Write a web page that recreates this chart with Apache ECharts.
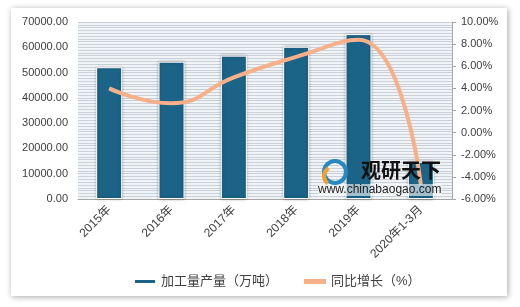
<!DOCTYPE html>
<html><head><meta charset="utf-8">
<script src="https://cdn.jsdelivr.net/npm/echarts@6/dist/echarts.min.js"></script>
<style>html,body{margin:0;padding:0;background:#fff}#c{width:520px;height:307px}</style>
</head><body><div id="c"></div>
<script>
var categories = ['2015年','2016年','2017年','2018年','2019年','2020年1-3月'];
var output = [52100, 54300, 56700, 60200, 65200, 14700];
var growth = [4.0, 2.65, 5.0, 6.85, 8.4, -4.7];
var leftTicks = {min: 0, max: 70000, interval: 10000};
var rightTicks = {min: -6, max: 10, interval: 2};

var chart = echarts.init(document.getElementById('c'));
var font = 'Liberation Sans, Noto Sans CJK SC, sans-serif';
chart.setOption({
  animation: false,
  textStyle: {fontFamily: font},
  graphic: [
    {type: 'rect', z: -10, shape: {x: 11, y: 8, width: 496, height: 288},
     style: {fill: '#fff', shadowColor: 'rgba(0,0,0,0.35)', shadowBlur: 6, shadowOffsetX: 1, shadowOffsetY: 1}},
    {type: 'rect', z: 1, shape: {x: 115, y: 270, width: 195, height: 20}, style: {fill: '#fff'}},
    {type: 'text', z: 100, left: 361, top: 160, style: {text: '观研天下', font: 'bold 20px "Noto Sans CJK SC"', fill: '#111'}},
    {type: 'text', z: 100, left: 318, top: 184, style: {text: 'www.chinabaogao.com', font: '12px "Liberation Sans"', fill: '#222', backgroundColor: 'rgba(255,255,255,0.6)'}},
    {type: 'circle', z: 100, shape: {cx: 335, cy: 172, r: 11}, style: {fill: 'none', stroke: '#2a88c0', lineWidth: 4}},
    {type: 'arc', z: 100, shape: {cx: 333, cy: 176, r: 9, startAngle: 2.2, endAngle: 4.2}, style: {stroke: '#f0a030', lineWidth: 4, fill: 'none'}}
  ],
  grid: {left: 78, right: 68, top: 22, bottom: 108, show: true, backgroundColor: '#F1F4F7', borderWidth: 0},
  legend: {
    bottom: 14, left: 128, itemGap: 26, itemWidth: 22, itemHeight: 5,
    textStyle: {fontSize: 13, color: '#404040'},
    data: [{name: '加工量产量（万吨）', icon: 'rect'}, {name: '同比增长（%）', icon: 'rect'}]
  },
  xAxis: {
    type: 'category', data: categories,
    axisLine: {lineStyle: {color: '#A6A6A6'}},
    axisTick: {show: false},
    axisLabel: {rotate: 45, fontSize: 12, color: '#404040', margin: 9, interval: 0}
  },
  yAxis: [
    {type: 'value', min: leftTicks.min, max: leftTicks.max, interval: leftTicks.interval,
     axisLabel: {fontSize: 11, color: '#404040', margin: 10, formatter: function(v){return v.toFixed(2);}},
     axisLine: {show: false}, axisTick: {show: false},
     splitLine: {lineStyle: {color: '#C9D0D7', width: 1}},
     minorTick: {show: false, splitNumber: 9},
     minorSplitLine: {show: true, lineStyle: {color: '#C9D0D7', width: 1}}},
    {type: 'value', min: rightTicks.min, max: rightTicks.max, interval: rightTicks.interval,
     axisLabel: {fontSize: 11, color: '#404040', margin: 9, formatter: function(v){return v.toFixed(2) + '%';}},
     axisLine: {show: true, lineStyle: {color: '#A6A6A6'}},
     axisTick: {show: true, length: 4, lineStyle: {color: '#A6A6A6'}},
     splitLine: {show: false}}
  ],
  series: [
    {name: '加工量产量（万吨）', type: 'bar', data: output, barWidth: 26, yAxisIndex: 0,
     itemStyle: {color: '#1B6387', borderColor: '#fff', borderWidth: 1, shadowColor: 'rgba(0,0,0,0.3)', shadowBlur: 3}},
    {name: '同比增长（%）', type: 'line', data: growth, yAxisIndex: 1, smooth: 0.5,
     symbol: 'none', lineStyle: {color: '#F7B08A', width: 4}, itemStyle: {color: '#F7B08A'}}
  ]
});
</script></body></html>
